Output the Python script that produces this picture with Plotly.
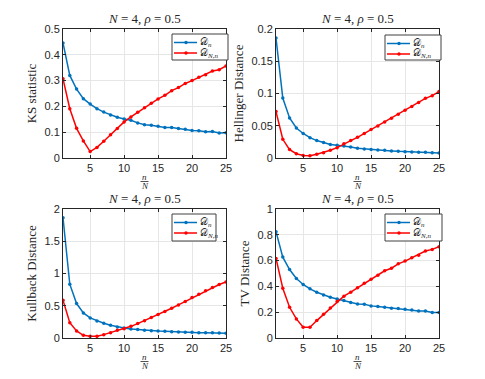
import plotly.graph_objects as go

# x values: n/N
ratio = list(range(1, 26))

ks_dn = [0.446, 0.320, 0.267, 0.230, 0.209, 0.191, 0.178, 0.167, 0.158, 0.151, 0.146, 0.136, 0.129,
         0.127, 0.123, 0.118, 0.118, 0.114, 0.111, 0.107, 0.106, 0.102, 0.103, 0.097, 0.098]
ks_dnn = [0.307, 0.191, 0.115, 0.066, 0.025, 0.041, 0.065, 0.090, 0.114, 0.140, 0.159, 0.177, 0.195,
          0.212, 0.229, 0.243, 0.261, 0.273, 0.289, 0.300, 0.313, 0.323, 0.337, 0.342, 0.357]

hel_dn = [0.186, 0.093, 0.062, 0.0465, 0.038, 0.0315, 0.027, 0.024, 0.021, 0.0196, 0.0186, 0.017, 0.015,
          0.014, 0.013, 0.0124, 0.012, 0.011, 0.0103, 0.0098, 0.0093, 0.0088, 0.0088, 0.0083, 0.0078]
hel_dnn = [0.072, 0.029, 0.013, 0.0067, 0.004, 0.0036, 0.0057, 0.0083, 0.012, 0.016, 0.022, 0.027, 0.032,
           0.038, 0.044, 0.0496, 0.056, 0.0615, 0.068, 0.074, 0.080, 0.086, 0.0925, 0.0966, 0.103]

kl_dn = [1.865, 0.834, 0.534, 0.389, 0.311, 0.264, 0.228, 0.197, 0.171, 0.155, 0.140, 0.130, 0.119,
         0.114, 0.109, 0.104, 0.098, 0.093, 0.088, 0.088, 0.083, 0.083, 0.083, 0.078, 0.073]
kl_dnn = [0.585, 0.238, 0.109, 0.041, 0.026, 0.026, 0.052, 0.083, 0.119, 0.145, 0.181, 0.223, 0.269,
          0.316, 0.363, 0.409, 0.461, 0.513, 0.565, 0.627, 0.679, 0.731, 0.782, 0.829, 0.870]

tv_dn = [0.824, 0.627, 0.531, 0.461, 0.415, 0.381, 0.355, 0.334, 0.316, 0.303, 0.290, 0.275, 0.264,
         0.262, 0.249, 0.244, 0.238, 0.231, 0.228, 0.223, 0.218, 0.210, 0.210, 0.197, 0.197]
tv_dnn = [0.617, 0.386, 0.238, 0.148, 0.083, 0.083, 0.135, 0.184, 0.233, 0.282, 0.324, 0.355, 0.389,
          0.425, 0.456, 0.487, 0.521, 0.541, 0.575, 0.596, 0.622, 0.642, 0.674, 0.687, 0.707]

series_names = ['𝒟<sub><i>n</i></sub>', '𝒟<sub><i>N,n</i></sub>']

panels = [
    ('KS statistic', ks_dn, ks_dnn, 0.5, 0.1),
    ('Hellinger Distance', hel_dn, hel_dnn, 0.2, 0.05),
    ('Kullback Distance', kl_dn, kl_dnn, 2, 0.5),
    ('TV Distance', tv_dn, tv_dnn, 1, 0.2),
]

# the page body has an 8px margin, so the figure is shrunk and everything shifted by it
OFF = 8
W, H = 485 - OFF, 379 - OFF
# pixel boxes of each axes in the window (left, right, top, bottom)
boxes = [(63, 226, 29, 158), (276, 439, 29, 158), (63, 226, 209, 338), (276, 439, 209, 338)]
# legend boxes (left, right, top, bottom)
leg_boxes = [(172, 228, 34, 60), (385, 441, 35, 60), (172, 216, 214, 241), (385, 442, 214, 241)]

BLUE = '#0072BD'
RED = '#FF0000'
INK = '#262626'
SERIF = 'Liberation Serif, DejaVu Serif, serif'
SANS = 'Liberation Sans, Arial, Helvetica, sans-serif'


def px_x(p):
    return (p - OFF) / W


def px_y(p):
    return 1 - (p - OFF) / H


fig = go.Figure()
layout = dict(width=W, height=H, margin=dict(l=0, r=0, t=0, b=0, autoexpand=False),
              paper_bgcolor='white', plot_bgcolor='white', showlegend=False)
annotations = []
shapes = []

for i, (name, dn, dnn, ymax, dy) in enumerate(panels):
    k = '' if i == 0 else str(i + 1)
    l, r, t, b = boxes[i]
    for vals, color, sname in [(dn, BLUE, series_names[0]), (dnn, RED, series_names[1])]:
        fig.add_trace(go.Scatter(x=ratio, y=vals, mode='lines+markers', name=sname,
                                 line=dict(color=color, width=1.5), marker=dict(size=3.5, color=color),
                                 xaxis='x' + k, yaxis='y' + k))
    layout['xaxis' + k] = dict(domain=[px_x(l), px_x(r)], anchor='y' + k, range=[1, 25],
                               tickvals=[5, 10, 15, 20, 25],
                               showline=True, linecolor=INK, linewidth=1, mirror='ticks',
                               ticks='inside', ticklen=3, tickcolor=INK, automargin=False,
                               showgrid=True, gridcolor='#e6e6e6', zeroline=False,
                               tickfont=dict(family=SANS, size=11, color=INK))
    layout['yaxis' + k] = dict(domain=[px_y(b), px_y(t)], anchor='x' + k, range=[0, ymax], dtick=dy,
                               showline=True, linecolor=INK, linewidth=1, mirror='ticks',
                               ticks='inside', ticklen=3, tickcolor=INK, automargin=False,
                               showgrid=True, gridcolor='#e6e6e6', zeroline=False,
                               tickfont=dict(family=SANS, size=11, color=INK),
                               title=dict(text=name, font=dict(family=SERIF, size=13, color=INK),
                                          standoff=4))
    cx = px_x((l + r) / 2)
    annotations.append(dict(text='<i>N</i> = 4, <i>ρ</i> = 0.5', xref='paper', yref='paper',
                            x=cx, y=px_y(t - 11), xanchor='center', yanchor='middle', showarrow=False,
                            font=dict(family=SERIF, size=13, color=INK)))
    # fraction n/N under the x axis
    annotations.append(dict(text='<i>n</i>', xref='paper', yref='paper', x=cx, y=px_y(b + 19),
                            xanchor='center', yanchor='middle', showarrow=False,
                            font=dict(family=SERIF, size=9, color=INK)))
    annotations.append(dict(text='<i>N</i>', xref='paper', yref='paper', x=cx, y=px_y(b + 28),
                            xanchor='center', yanchor='middle', showarrow=False,
                            font=dict(family=SERIF, size=9, color=INK)))
    shapes.append(dict(type='line', xref='paper', yref='paper', x0=px_x((l + r) / 2 - 4),
                       x1=px_x((l + r) / 2 + 4), y0=px_y(b + 23.5), y1=px_y(b + 23.5),
                       line=dict(color=INK, width=0.8)))

    # legend box, MATLAB style (white fill first, then four border lines)
    ll, lr, lt, lb = leg_boxes[i]
    shapes.append(dict(type='rect', xref='paper', yref='paper', layer='above',
                       x0=px_x(ll), x1=px_x(lr), y0=px_y(lb), y1=px_y(lt),
                       fillcolor='white', line=dict(width=0)))
    for x0, x1, y0, y1 in [(ll, lr, lt, lt), (ll, lr, lb, lb), (ll, ll, lt, lb), (lr, lr, lt, lb)]:
        shapes.append(dict(type='line', xref='paper', yref='paper', layer='above',
                           x0=px_x(x0), x1=px_x(x1), y0=px_y(y0), y1=px_y(y1),
                           line=dict(color='#404040', width=1)))
    for j, (color, sname) in enumerate([(BLUE, series_names[0]), (RED, series_names[1])]):
        ey = lt + 8.5 + j * 10.5
        shapes.append(dict(type='line', xref='paper', yref='paper', x0=px_x(ll + 2), x1=px_x(ll + 25),
                           y0=px_y(ey), y1=px_y(ey), line=dict(color=color, width=1.5)))
        shapes.append(dict(type='circle', xref='paper', yref='paper', x0=px_x(ll + 12.3),
                           x1=px_x(ll + 15.7), y0=px_y(ey + 1.7), y1=px_y(ey - 1.7),
                           fillcolor=color, line=dict(color=color, width=0)))
        annotations.append(dict(text=sname, xref='paper', yref='paper', x=px_x(ll + 26), y=px_y(ey),
                                xanchor='left', yanchor='middle', showarrow=False,
                                font=dict(family=SERIF, size=10, color=INK)))

layout['annotations'] = annotations
layout['shapes'] = shapes
fig.update_layout(**layout)
fig.write_html('out.html')
